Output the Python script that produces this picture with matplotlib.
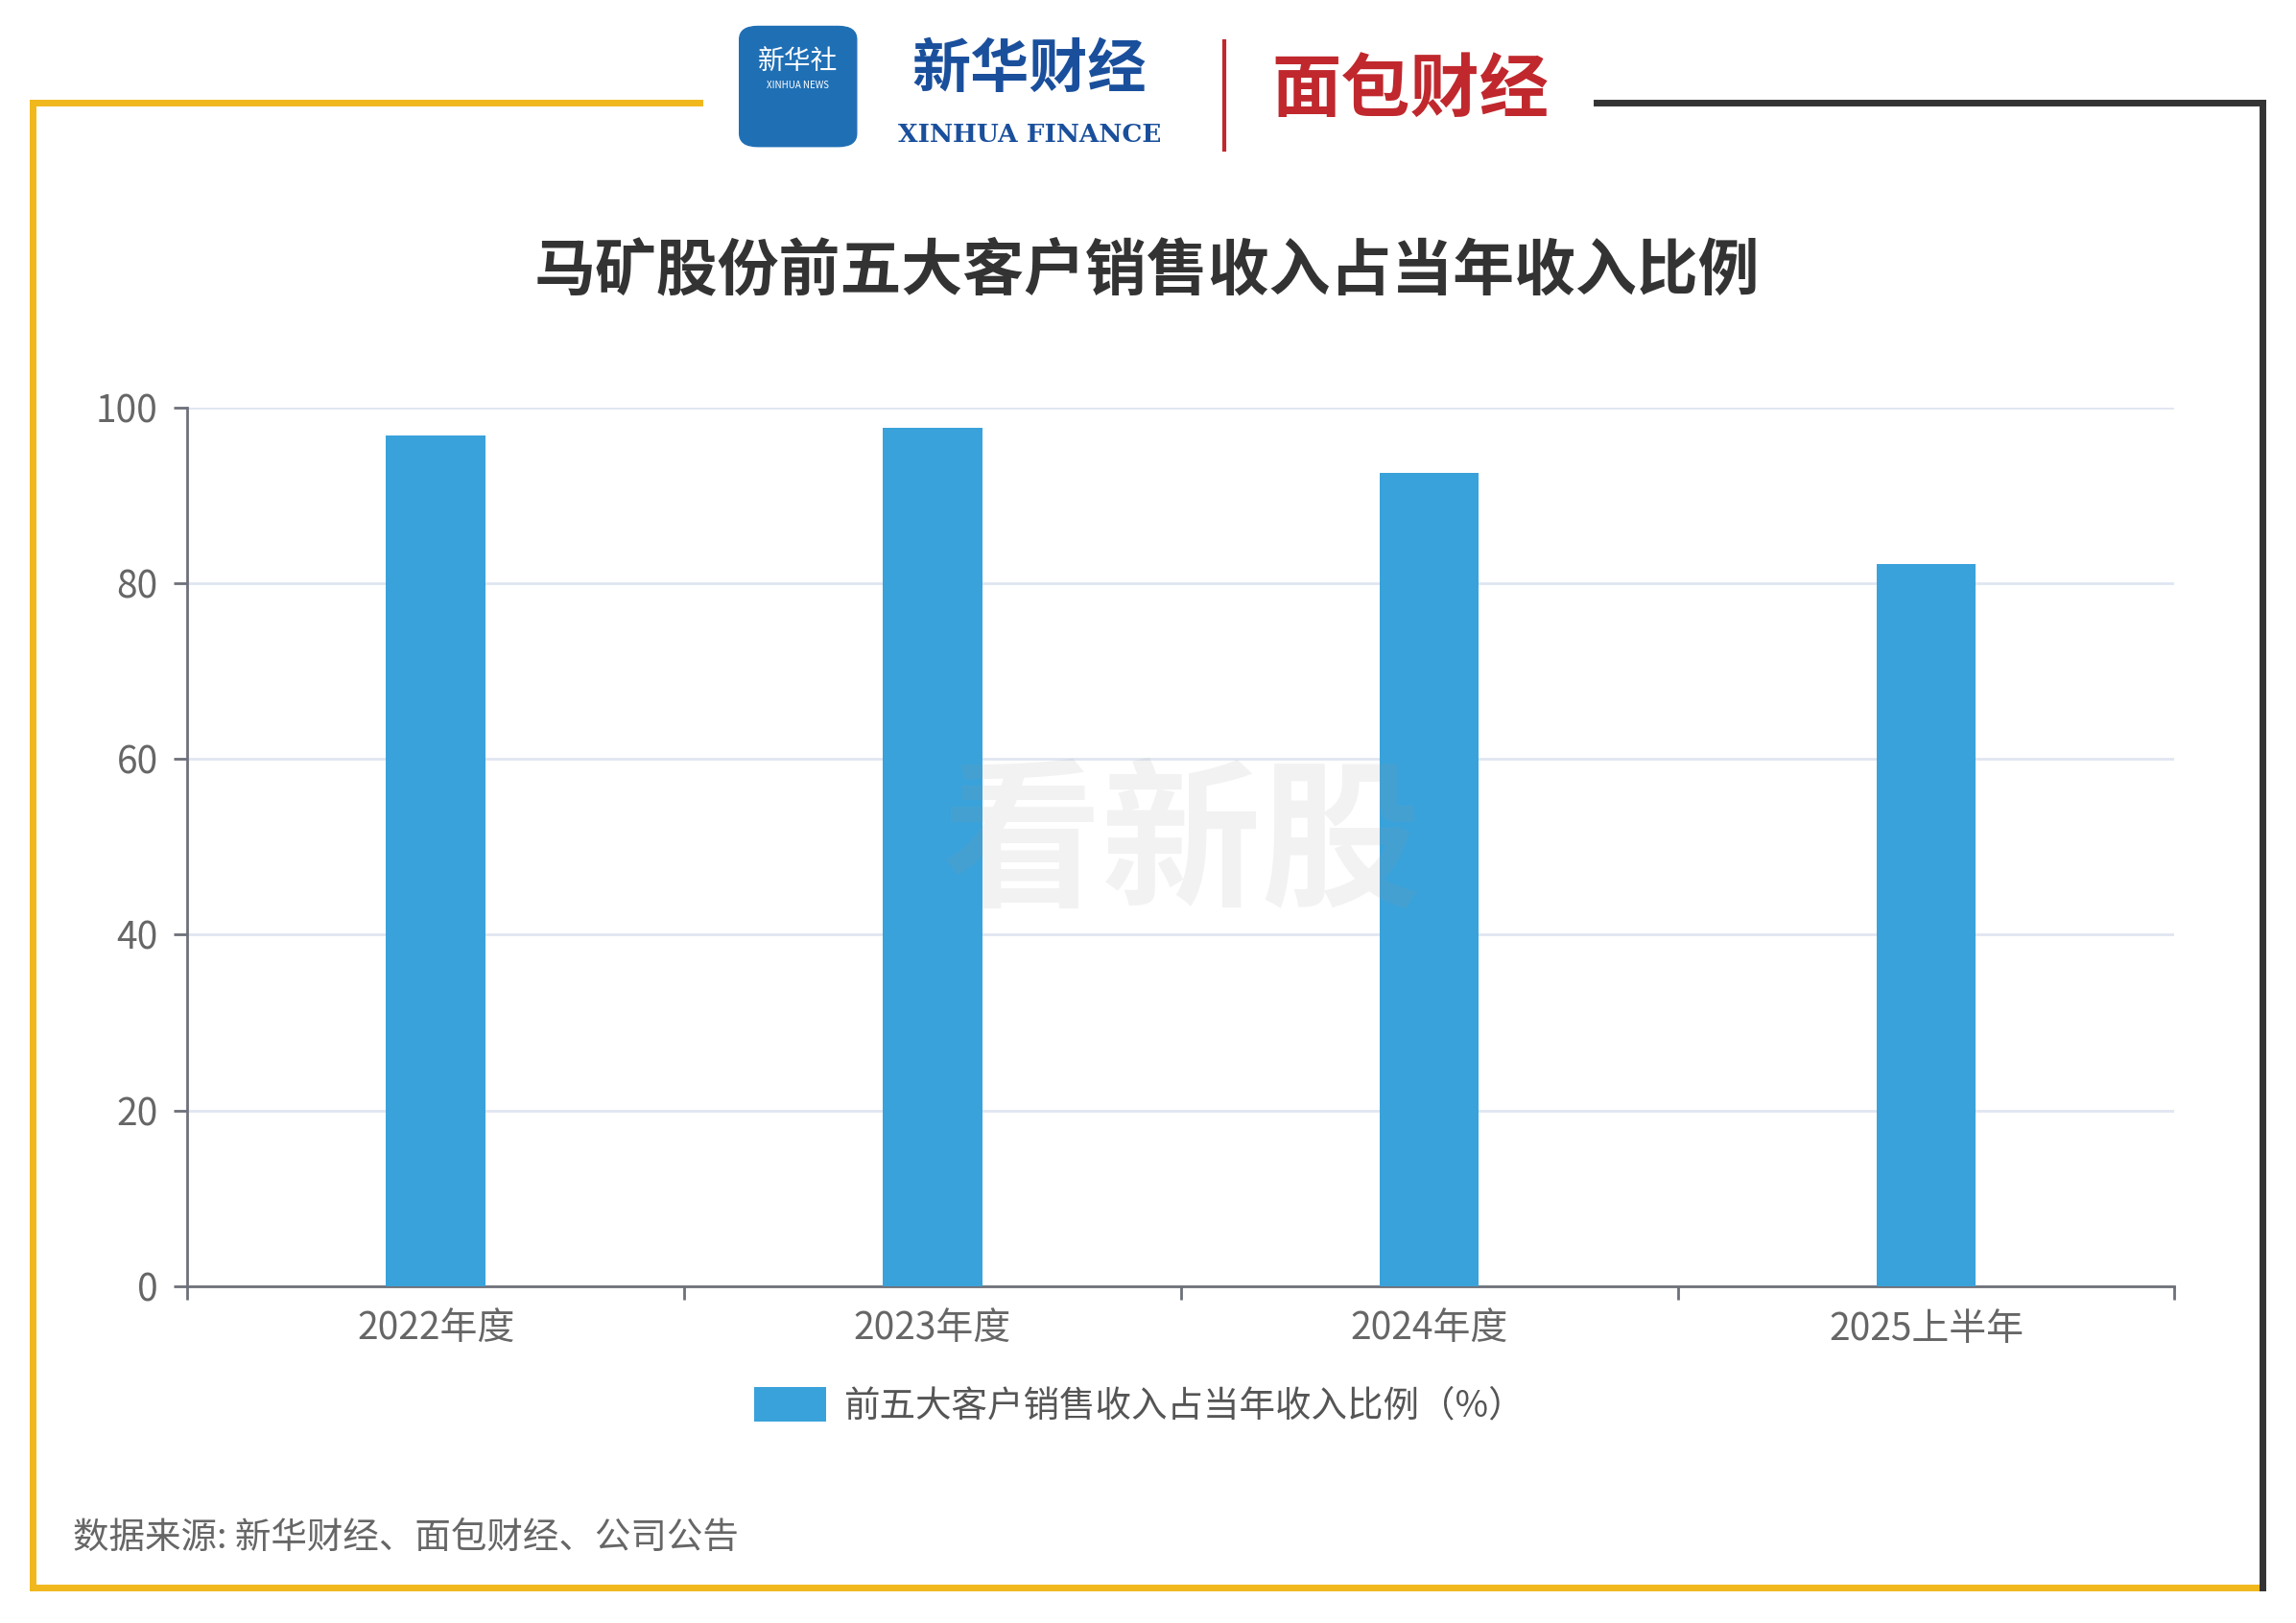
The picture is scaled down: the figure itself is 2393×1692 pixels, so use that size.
import matplotlib.pyplot as plt
from matplotlib.lines import Line2D
from matplotlib.patches import FancyBboxPatch

plt.rcParams['font.family'] = ['Noto Sans CJK SC', 'DejaVu Sans']

categories = ["2022年度", "2023年度", "2024年度", "2025上半年"]
values = [96.8, 97.7, 92.5, 82.2]
series_name = "前五大客户销售收入占当年收入比例（%）"
title = "马矿股份前五大客户销售收入占当年收入比例"
source = "数据来源: 新华财经、面包财经、公司公告"

W, H = 1568, 1108
fig = plt.figure(figsize=(23.93, 16.92), dpi=100)


def fx(x):
    return x / W


def fy(y):
    return 1 - y / H


# frame
yellow = "#f0b81c"
dark = "#333333"
for xs, ys, c in [
    ([22, 478], [70, 70], yellow),
    ([22, 22], [70, 1084], yellow),
    ([22, 1545], [1084, 1084], yellow),
    ([1090, 1545], [70, 70], dark),
    ([1545, 1545], [70, 1084], dark),
]:
    fig.add_artist(Line2D([fx(x) for x in xs], [fy(y) for y in ys],
                          color=c, lw=5, transform=fig.transFigure))

# header logos (text approximations)
fig.add_artist(FancyBboxPatch((fx(505), fy(100)), fx(80), fy(18) - fy(100),
                              boxstyle="round,pad=0,rounding_size=0.008",
                              color="#1f6fb5", transform=fig.transFigure))
fig.text(fx(545), fy(42), "新华社", color="white", fontsize=20, ha="center", va="center")
fig.text(fx(545), fy(58), "XINHUA NEWS", color="white", fontsize=7, ha="center", va="center")
fig.text(fx(703), fy(48), "新华财经", color="#1a4f9c", fontsize=44, ha="center",
         va="center", fontweight="bold", style="italic")
fig.text(fx(703), fy(92), "XINHUA FINANCE", color="#1a4f9c", fontsize=19, ha="center",
         va="center", family="DejaVu Serif", fontweight="bold")
fig.add_artist(Line2D([fx(836), fx(836)], [fy(28), fy(102)], color="#c0282d", lw=3,
                      transform=fig.transFigure))
fig.text(fx(963), fy(62), "面包财经", color="#c0282d", fontsize=52, ha="center",
         va="center", fontweight="black")

fig.text(fx(783), fy(185), title, fontsize=46, fontweight="bold", color="#333333",
         ha="center", va="center")

ax = fig.add_axes([fx(128), fy(878), fx(1485) - fx(128), fy(278) - fy(878)])
x = range(len(categories))
ax.bar(x, values, width=0.2, color="#3aa2da", zorder=3, label=series_name)
ax.set_xlim(-0.5, len(categories) - 0.5)
ax.set_ylim(0, 100)
ax.set_yticks([0, 20, 40, 60, 80, 100])
ax.set_xticks(list(x))
ax.set_xticklabels(categories)
ax.set_xticks([-0.5, 0.5, 1.5, 2.5, 3.5], minor=True)
ax.tick_params(axis="x", which="major", length=0, pad=18, labelsize=28, labelcolor="#666666")
ax.tick_params(axis="x", which="minor", length=10, width=2, color="#6e7079")
ax.tick_params(axis="y", length=10, width=2, color="#6e7079", labelsize=28,
               labelcolor="#666666", pad=12)
ax.grid(axis="y", color="#e0e6f1", lw=2, zorder=0)
for s in ["top", "right"]:
    ax.spines[s].set_visible(False)
for s in ["left", "bottom"]:
    ax.spines[s].set_color("#6e7079")
    ax.spines[s].set_linewidth(2)

ax.text(0.5, 0.5, "看新股", transform=ax.transAxes, fontsize=120, fontweight="black",
        style="italic", color="#999999", alpha=0.12, ha="center", va="center", zorder=4)

fig.legend(loc="center", bbox_to_anchor=(fx(778), fy(960)), frameon=False,
           fontsize=27, labelcolor="#555555", handlelength=2.0, handleheight=1.1,
           handletextpad=0.5)

fig.text(fx(50), fy(1050), source, fontsize=27, color="#666666", ha="left", va="center")

fig.savefig("out.png", dpi=100)
